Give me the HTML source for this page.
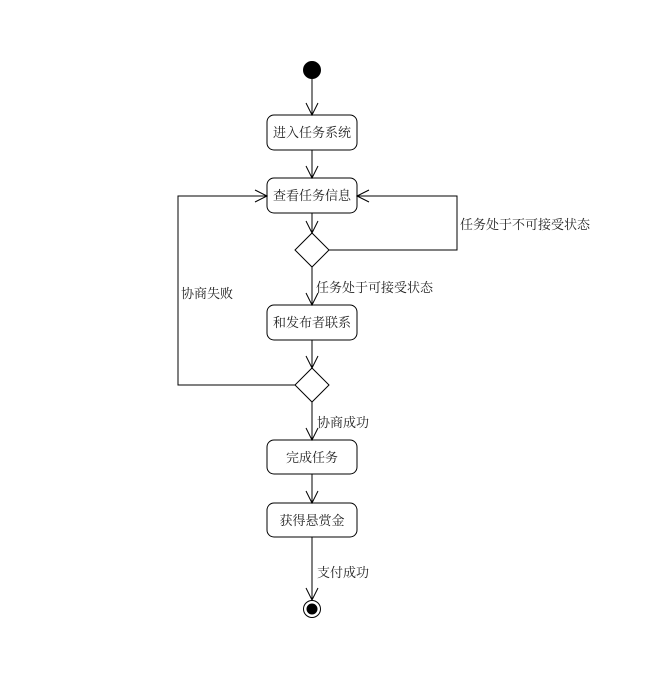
<!DOCTYPE html>
<html><head><meta charset="utf-8"><style>body{margin:0;background:#fff}</style></head><body>
<svg width="656" height="680" xmlns="http://www.w3.org/2000/svg" font-family="Liberation Serif, Noto Serif CJK SC, serif" font-size="13">
<rect width="656" height="680" fill="#fff"/>
<g stroke="#000" fill="none" stroke-width="1">
<circle cx="312" cy="70" r="8.5" fill="#000"/>
<rect x="267" y="115" width="90" height="35" rx="7" fill="#fff"/>
<rect x="267" y="178" width="90" height="35" rx="7" fill="#fff"/>
<rect x="267" y="305" width="90" height="35" rx="7" fill="#fff"/>
<rect x="267" y="440" width="90" height="34" rx="7" fill="#fff"/>
<rect x="267" y="503" width="90" height="34" rx="7" fill="#fff"/>
<polygon points="312,233 329,250 312,267 295,250" fill="#fff"/>
<polygon points="312,368 329,385 312,402 295,385" fill="#fff"/>
<circle cx="312" cy="609" r="8.5"/>
<circle cx="312" cy="609" r="5" fill="#000"/>
<path d="M312 79V115M312 150V178M312 213V233M312 267V305M312 340V368M312 402V440M312 474V503M312 537V600"/>
<path d="M329 250H457V196H357"/>
<path d="M295 385H178V196H267"/>
<path d="M306 103L312 115L318 103M306 166L312 178L318 166M306 221L312 233L318 221M306 293L312 305L318 293M306 356L312 368L318 356M306 428L312 440L318 428M306 491L312 503L318 491M306 588L312 600L318 588"/>
<path d="M369 190L357 196L369 202M255 190L267 196L255 202"/>
</g>
<g fill="#222" text-anchor="middle">
<text x="312" y="137">进入任务系统</text>
<text x="312" y="200">查看任务信息</text>
<text x="312" y="327">和发布者联系</text>
<text x="312" y="462">完成任务</text>
<text x="312" y="525">获得悬赏金</text>
</g>
<g fill="#222">
<text x="460" y="229">任务处于不可接受状态</text>
<text x="316" y="292">任务处于可接受状态</text>
<text x="181" y="298">协商失败</text>
<text x="317" y="427">协商成功</text>
<text x="317" y="577">支付成功</text>
</g>
</svg>
</body></html>
